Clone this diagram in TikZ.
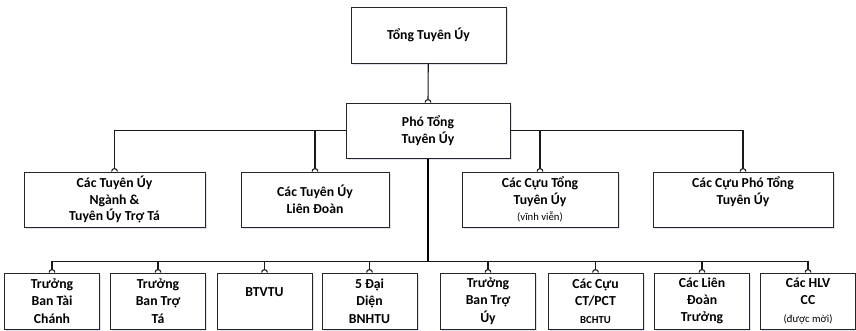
\documentclass[tikz,border=0pt]{standalone}
\usepackage{fontspec}
\setmainfont{Carlito}
\usetikzlibrary{shadows}

\begin{document}
\begin{tikzpicture}[x=0.75pt, y=-0.75pt,
    unit/.style={draw=black!85, line width=0.75pt, fill=white, align=center,
      font=\fontsize{10.3}{12.5}\selectfont\bfseries, inner sep=0pt,
      drop shadow={shadow xshift=1.2pt, shadow yshift=-1.2pt, fill=blue!30!gray!30, opacity=0.6}},
    leaf/.style={unit, minimum width=71.25pt, minimum height=42pt,
      font=\fontsize{10.3}{13}\selectfont\bfseries},
    link/.style={line width=0.8pt, black!90}]
  \useasboundingbox (0,0) rectangle (856,330);

  % Top two levels
  \node[unit, minimum width=116.25pt, minimum height=42pt] (tong) at (428.5,35) {Tổng Tuyên Úy};
  \node[unit, minimum width=123pt, minimum height=41.25pt] (pho) at (428,130.5) {Phó Tổng\\Tuyên Úy};

  % Second row
  \node[unit, minimum width=135.75pt, minimum height=41.25pt] (nganh) at (114.5,199.5)
    {Các Tuyên Úy\\Ngành \&\\Tuyên Úy Trợ Tá};
  \node[unit, minimum width=111pt, minimum height=41.25pt] (liendoan) at (315,199.5)
    {Các Tuyên Úy\\Liên Đoàn};
  \node[unit, minimum width=117pt, minimum height=41.25pt] (cuutong) at (540,199.5)
    {Các Cựu Tổng\\Tuyên Úy\\{\fontsize{8}{9}\selectfont\mdseries (vĩnh viễn)}};
  \node[unit, minimum width=135pt, minimum height=41.25pt] (cuupho) at (743,199.5)
    {Các Cựu Phó Tổng\\Tuyên Úy\\{\fontsize{8}{9}\selectfont\phantom{(vĩnh viễn)}}};

  % Bottom row
  \node[leaf] (taichanh) at (52,301) {Trưởng\\Ban Tài\\Chánh};
  \node[leaf] (trota)    at (158,301) {Trưởng\\Ban Trợ\\Tá};
  \node[leaf] (btvtu)    at (264.5,301) {BTVTU\\\mbox{}};
  \node[leaf] (daidien)  at (369.5,301) {5 Đại\\Diện\\BNHTU};
  \node[leaf] (troUy)    at (488,301) {Trưởng\\Ban Trợ\\Úy};
  \node[leaf] (cuuct)    at (595.5,301) {Các Cựu\\CT/PCT\\{\fontsize{8}{9}\selectfont BCHTU}};
  \node[leaf] (ldtruong) at (702,301) {Các Liên\\Đoàn\\Trưởng};
  \node[leaf] (hlv)      at (808,301) {Các HLV\\CC\\{\fontsize{8}{9}\selectfont\mdseries (được mời)}};

  % Connectors
  \draw[link] (tong) -- ([yshift=2.2pt]pho.north);
  \draw[link] (pho.west) -| ([yshift=2.2pt]nganh.north);
  \draw[link] (pho.west -| liendoan.north) -- ([yshift=2.2pt]liendoan.north);
  \draw[link] (pho.east) -| ([yshift=2.2pt]cuupho.north);
  \draw[link] (pho.east -| cuutong.north) -- ([yshift=2.2pt]cuutong.north);

  \coordinate (bus) at (428,261.5);
  \draw[line width=1.5pt, black] (pho.south) -- (bus);
  \foreach \n in {taichanh,trota,btvtu,daidien,troUy,cuuct,ldtruong,hlv}
    \draw[link] (bus) -| ([yshift=2.2pt]\n.north);

  % Small arcs where lines meet the boxes
  \foreach \n in {pho,nganh,liendoan,cuutong,cuupho,
                  taichanh,trota,btvtu,daidien,troUy,cuuct,ldtruong,hlv}
    \draw[link, fill=white] ([xshift=-2.2pt]\n.north) arc[start angle=180, end angle=0, radius=2.2pt];
\end{tikzpicture}
\end{document}
